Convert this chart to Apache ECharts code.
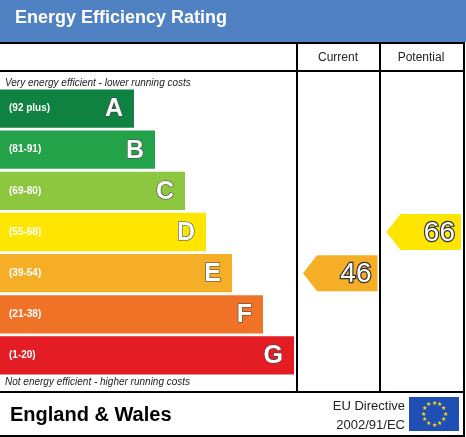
<!DOCTYPE html>
<html><head><meta charset="utf-8">
<script src="https://cdn.jsdelivr.net/npm/echarts@6/dist/echarts.min.js"></script>
<style>html,body{margin:0;padding:0;background:#fff}#c{width:466px;height:437px}</style>
</head><body><div id="c"></div>
<script>
const bands = ['A','B','C','D','E','F','G'];
const ranges = ['(92 plus)','(81-91)','(69-80)','(55-68)','(39-54)','(21-38)','(1-20)'];
const bandMin = [92,81,69,55,39,21,1];
const barLength = [134,155,185,206,232,263,294];
const bandColors = ['#0f8241','#23a249','#8dc63f','#ffe600','#f7ae27','#ef7226','#e31d23'];
const columns = ['Current','Potential'];
const scores = [46,66];

function bandOf(s){for(let i=0;i<bandMin.length;i++){if(s>=bandMin[i])return i;}return 6;}

const chart = echarts.init(document.getElementById('c'));
const stars=[];
for(let i=0;i<12;i++){const a=i*Math.PI/6;stars.push({type:'text',style:{x:434+Math.cos(a)*11,y:414+Math.sin(a)*11,text:'★',fill:'#ffdd00',fontSize:6,align:'center',verticalAlign:'middle'}});}
chart.setOption({
  animation:false,
  grid:[{left:0,top:88,width:466,height:288},{left:297,top:88,width:167,height:288}],
  xAxis:[{gridIndex:0,type:'value',min:0,max:466,show:false},
         {gridIndex:1,type:'category',data:columns,show:false}],
  yAxis:[{gridIndex:0,type:'category',data:bands,inverse:true,show:false},
         {gridIndex:1,type:'category',data:bands,inverse:true,show:false}],
  series:[{
    type:'bar',xAxisIndex:0,yAxisIndex:0,barCategoryGap:'7%',
    data:barLength.map((v,i)=>({value:v,itemStyle:{color:bandColors[i]}})),
    label:{show:true,position:'insideLeft',offset:[4,0],formatter:p=>'{r|'+ranges[p.dataIndex]+'}',rich:{r:{color:'#fff',fontSize:10,fontWeight:'bold',fontFamily:'Liberation Sans'}}}
  },{
    type:'bar',xAxisIndex:0,yAxisIndex:0,barGap:'-100%',barCategoryGap:'7%',silent:true,
    data:barLength.map(v=>({value:v,itemStyle:{color:'transparent'}})),
    label:{show:true,position:'insideRight',offset:[-6,1],formatter:p=>bands[p.dataIndex],color:'#fff',fontSize:25,fontWeight:'bold',fontFamily:'Liberation Sans',textBorderColor:'#444',textBorderWidth:1.2}
  },{
    type:'custom',xAxisIndex:1,yAxisIndex:1,
    data:scores.map((s,i)=>[i,bandOf(s),s]),
    renderItem:(params,api)=>{
      const c=api.coord([api.value(0),api.value(1)]);
      const w=api.size([1,1]);
      const x0=c[0]-w[0]/2+6,x1=c[0]+w[0]/2-3,h=36,y=c[1];
      const col=bandColors[api.value(1)];
      return {type:'group',children:[
        {type:'polygon',shape:{points:[[x0,y],[x0+14,y-h/2],[x1,y-h/2],[x1,y+h/2],[x0+14,y+h/2]]},style:{fill:col}},
        {type:'text',style:{x:x1-6,y:y+1,text:String(api.value(2)),align:'right',verticalAlign:'middle',fill:'#fff',fontSize:28,fontFamily:'Liberation Sans',stroke:'#333',lineWidth:2.5}}
      ]};
    }
  }],
  graphic:[
    {type:'rect',shape:{x:0,y:0,width:466,height:42},style:{fill:'#4f81c3'}},
    {type:'text',style:{x:15,y:18,text:'Energy Efficiency Rating',fill:'#fff',fontSize:18,fontWeight:'bold',fontFamily:'Liberation Sans',verticalAlign:'middle'}},
    {type:'rect',shape:{x:-1,y:43,width:465,height:393},style:{fill:'none',stroke:'#000',lineWidth:2}},
    {type:'line',shape:{x1:0,y1:71,x2:464,y2:71},style:{stroke:'#000',lineWidth:2}},
    {type:'line',shape:{x1:297,y1:43,x2:297,y2:392},style:{stroke:'#000',lineWidth:2}},
    {type:'line',shape:{x1:380,y1:43,x2:380,y2:392},style:{stroke:'#000',lineWidth:2}},
    {type:'line',shape:{x1:0,y1:392,x2:464,y2:392},style:{stroke:'#000',lineWidth:2}},
    {type:'text',style:{x:338,y:58,text:'Current',fill:'#222',fontSize:12,fontFamily:'Liberation Sans',align:'center',verticalAlign:'middle'}},
    {type:'text',style:{x:421,y:58,text:'Potential',fill:'#222',fontSize:12,fontFamily:'Liberation Sans',align:'center',verticalAlign:'middle'}},
    {type:'text',style:{x:5,y:83,text:'Very energy efficient - lower running costs',fill:'#222',fontSize:10,fontStyle:'italic',fontFamily:'Liberation Sans',verticalAlign:'middle'}},
    {type:'text',style:{x:5,y:382,text:'Not energy efficient - higher running costs',fill:'#222',fontSize:10,fontStyle:'italic',fontFamily:'Liberation Sans',verticalAlign:'middle'}},
    {type:'text',style:{x:10,y:415,text:'England & Wales',fill:'#000',fontSize:20,fontWeight:'bold',fontFamily:'Liberation Sans',verticalAlign:'middle'}},
    {type:'text',style:{x:405,y:406,text:'EU Directive',fill:'#222',fontSize:13,fontFamily:'Liberation Sans',align:'right',verticalAlign:'middle'}},
    {type:'text',style:{x:405,y:425,text:'2002/91/EC',fill:'#222',fontSize:13,fontFamily:'Liberation Sans',align:'right',verticalAlign:'middle'}},
    {type:'rect',shape:{x:409,y:397,width:50,height:34},style:{fill:'#1f4fb4'}},
    ...stars
  ]
});
</script></body></html>
